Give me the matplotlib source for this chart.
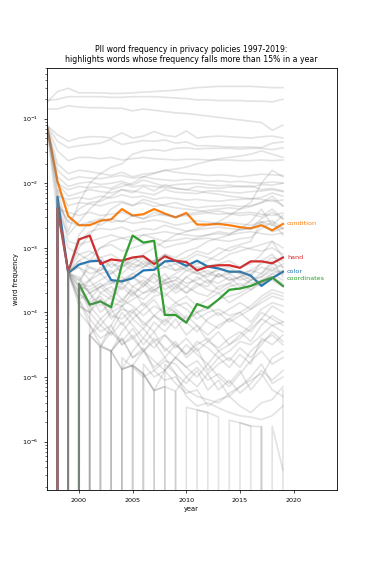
import numpy as np
import matplotlib
matplotlib.use("Agg")
import matplotlib.pyplot as plt
from matplotlib.ticker import NullFormatter, LogLocator

# --- data (log10 of word frequency, None = word absent that year) ---
years = list(range(1997, 2020))

condition = [-1.10, -1.97, -2.51, -2.65, -2.65, -2.58, -2.56, -2.40, -2.50, -2.48, -2.40, -2.47,
             -2.53, -2.46, -2.64, -2.64, -2.63, -2.65, -2.68, -2.70, -2.65, -2.73, -2.63]
hand = [None, -2.39, -3.37, -2.87, -2.81, -3.25, -3.18, -3.20, -3.15, -3.13, -3.25, -3.13,
        -3.20, -3.22, -3.35, -3.29, -3.27, -3.27, -3.31, -3.21, -3.21, -3.24, -3.15]
color = [None, -2.21, -3.39, -3.26, -3.21, -3.20, -3.50, -3.52, -3.47, -3.35, -3.34, -3.21,
         -3.20, -3.28, -3.20, -3.29, -3.32, -3.37, -3.37, -3.43, -3.59, -3.47, -3.37]
coordinates = [None, None, None, -3.56, -3.88, -3.83, -3.92, -3.26, -2.81, -2.92, -2.89, -4.04,
               -4.04, -4.16, -3.87, -3.93, -3.80, -3.65, -3.63, -3.59, -3.52, -3.46, -3.59]

# drawing order: blue under red like the original
highlight_words = ["condition", "color", "hand", "coordinates"]
highlight_series = [condition, color, hand, coordinates]
highlight_colors = ["tab:orange", "tab:blue", "tab:red", "tab:green"]
label_offsets = [0, 0, 0, 5]

y_ticks = [1e-6, 1e-5, 1e-4, 1e-3, 1e-2, 1e-1]
x_ticks = [2000, 2005, 2010, 2015, 2020]

N = None
other_words = [
    [-0.75, -0.58, -0.53, -0.60, -0.60, -0.60, -0.61, -0.61, -0.60, -0.59, -0.58, -0.57, -0.56, -0.54, -0.52, -0.51, -0.50, -0.50, -0.50, -0.50, -0.51, -0.52, -0.52],
    [-0.72, -0.70, -0.66, -0.66, -0.66, -0.66, -0.67, -0.67, -0.66, -0.66, -0.66, -0.67, -0.68, -0.69, -0.71, -0.71, -0.72, -0.72, -0.72, -0.73, -0.73, -0.74, -0.70],
    [-0.85, -0.85, -0.80, -0.82, -0.83, -0.83, -0.84, -0.84, -0.88, -0.85, -0.87, -0.89, -0.91, -0.92, -0.94, -0.96, -0.98, -1.00, -1.02, -1.04, -1.06, -1.18, -1.10],
    [-1.10, -1.25, -1.35, -1.30, -1.28, -1.28, -1.30, -1.22, -1.30, -1.27, -1.20, -1.26, -1.28, -1.19, -1.30, -1.28, -1.27, -1.28, -1.29, -1.30, -1.28, -1.27, -1.30],
    [-1.10, -1.35, -1.45, -1.42, -1.40, -1.38, -1.32, -1.40, -1.37, -1.34, -1.35, -1.33, -1.38, -1.36, -1.42, -1.42, -1.43, -1.44, -1.44, -1.44, -1.45, -1.38, -1.36],
    [-1.10, -1.50, -1.65, -1.60, -1.60, -1.62, -1.60, -1.64, -1.62, -1.60, -1.62, -1.63, -1.64, -1.63, -1.63, -1.64, -1.64, -1.64, -1.65, -1.65, -1.64, -1.65, -1.64],
    [N, -2.10, -2.75, -2.30, -2.00, -1.85, -1.75, -1.70, -1.55, -1.50, -1.48, -1.50, -1.46, -1.45, -1.47, -1.46, -1.46, -1.46, -1.47, -1.46, -1.46, -1.48, -1.45],
    [-1.10, -1.70, -1.85, -1.80, -1.82, -1.85, -1.88, -1.83, -1.90, -1.86, -1.84, -1.80, -1.83, -1.85, -1.86, -1.88, -1.87, -1.88, -1.90, -1.88, -1.86, -1.87, -1.88],
    [-1.10, -1.90, -2.05, -2.00, -1.98, -2.02, -2.00, -1.97, -2.03, -1.95, -2.00, -2.05, -2.02, -2.01, -2.00, -2.02, -2.04, -2.03, -2.05, -2.06, -2.02, -2.03, -2.00],
    [N, -2.40, -2.80, -2.60, -2.40, -2.25, -2.10, -2.05, -2.00, -1.90, -1.85, -1.80, -1.78, -1.75, -1.70, -1.66, -1.62, -1.60, -1.58, -1.55, -1.50, -1.55, -1.60],
    [-1.10, -2.00, -2.20, -2.15, -2.10, -2.13, -2.15, -2.10, -2.12, -2.15, -2.18, -2.10, -2.14, -2.15, -2.16, -2.12, -2.12, -2.14, -2.15, -2.13, -2.12, -2.10, -2.13],
    [-1.10, -2.10, -2.35, -2.30, -2.32, -2.35, -2.30, -2.28, -2.34, -2.30, -2.36, -2.33, -2.30, -2.35, -2.38, -2.36, -2.35, -2.34, -2.36, -2.35, -2.30, -2.25, -2.35],
    [N, -2.40, -2.45, -2.50, -2.45, -2.50, -2.48, -2.45, -2.50, -2.55, -2.50, -2.48, -2.52, -2.50, -2.48, -2.46, -2.48, -2.47, -2.46, -2.45, -2.48, -2.50, -2.46],
    [-1.10, -2.30, -2.60, -2.65, -2.60, -2.55, -2.60, -2.58, -2.62, -2.60, -2.57, -2.60, -2.65, -2.62, -2.58, -2.60, -2.62, -2.61, -2.63, -2.65, -2.60, -2.58, -2.70],
    [N, -2.20, -2.90, -2.95, -2.90, -2.85, -2.80, -2.85, -2.82, -2.80, -2.78, -2.75, -2.78, -2.80, -2.82, -2.80, -2.78, -2.80, -2.77, -2.75, -2.78, -2.80, -2.77],
    [-1.10, -1.80, -1.95, -1.90, -1.92, -1.93, -1.90, -1.88, -1.92, -1.90, -1.93, -1.95, -1.96, -1.94, -1.95, -1.97, -1.96, -1.98, -1.97, -1.99, -2.00, -1.98, -2.00],
    [-1.10, -2.20, -2.25, -2.22, -2.25, -2.20, -2.23, -2.18, -2.22, -2.20, -2.25, -2.22, -2.24, -2.26, -2.25, -2.27, -2.28, -2.26, -2.25, -2.24, -2.22, -2.15, -2.20],
    [N, -2.30, -2.60, -2.40, -2.30, -2.28, -2.20, -2.10, -2.15, -2.05, -2.12, -2.02, -2.08, -2.10, -2.05, -2.07, -2.08, -2.06, -2.05, -2.04, -2.10, -2.08, -2.12],
    [N, N, -3.37, -2.80, -2.60, -2.65, -2.55, -2.60, -2.50, -2.55, -2.45, -2.50, -2.52, -2.48, -2.45, -2.42, -2.40, -2.38, -2.40, -2.36, -2.30, -2.20, -2.35],
    [N, N, -3.37, -2.90, -2.75, -2.70, -2.72, -2.68, -2.75, -2.70, -2.72, -2.65, -2.70, -2.74, -2.72, -2.70, -2.68, -2.70, -2.72, -2.70, -2.55, -2.45, -2.55],
    [N, N, N, -3.56, -3.20, -3.00, -2.90, -2.85, -2.90, -2.80, -2.85, -2.90, -2.88, -2.85, -2.87, -2.85, -2.88, -2.90, -2.86, -2.84, -2.70, -2.60, -2.80],
    [-1.10, -2.00, -2.10, -2.05, -2.07, -2.05, -2.08, -2.00, -2.06, -2.03, -2.05, -2.07, -2.08, -2.10, -2.12, -2.15, -2.17, -2.20, -2.22, -2.24, -2.25, -2.28, -2.26],
    [N, -2.30, -3.37, -3.00, -2.80, -2.60, -2.40, -2.30, -2.35, -2.25, -2.30, -2.35, -2.38, -2.40, -2.42, -2.45, -2.43, -2.47, -2.50, -2.48, -2.52, -2.40, -2.55],
    [N, N, N, -3.56, -3.60, -3.50, -3.40, -3.30, -3.20, -3.10, -3.00, -2.90, -2.80, -2.75, -2.70, -2.65, -2.60, -2.50, -2.40, -2.30, -2.00, -1.80, -1.90],
    [N, N, -3.37, -3.50, -3.70, -3.60, -3.55, -3.50, -3.40, -3.30, -3.20, -3.10, -3.15, -3.05, -3.00, -2.90, -2.85, -2.80, -2.70, -2.60, -2.40, -2.65, -2.50],
    [N, N, N, N, -4.35, -4.20, -4.00, -3.90, -3.80, -3.70, -3.60, -3.50, -3.40, -3.30, -3.25, -3.20, -3.10, -3.00, -2.95, -2.90, -2.60, -2.75, -2.70],
    [N, N, -3.40, -3.20, -3.10, -3.00, -2.95, -3.05, -3.00, -2.95, -2.90, -3.00, -2.95, -2.92, -2.85, -2.80, -2.75, -2.78, -2.72, -2.70, -2.60, -2.65, -2.70],
    [N, N, -3.40, -3.50, -3.30, -3.35, -3.20, -3.40, -3.25, -3.30, -3.20, -3.15, -3.25, -3.20, -3.10, -3.15, -3.20, -3.10, -3.05, -3.00, -2.95, -2.90, -3.00],
    [N, N, -3.40, -3.60, -3.65, -3.55, -3.70, -3.50, -3.45, -3.60, -3.40, -3.55, -3.50, -3.35, -3.40, -3.45, -3.30, -3.40, -3.35, -3.45, -3.20, -3.10, -3.30],
    [N, N, -3.40, -3.80, -3.70, -3.90, -3.75, -3.85, -3.60, -3.70, -3.65, -3.55, -3.70, -3.60, -3.70, -3.75, -3.60, -3.55, -3.65, -3.50, -3.40, -3.20, -3.45],
    [N, N, -3.40, -3.45, -3.70, -4.00, -3.85, -3.90, -4.10, -3.95, -3.80, -4.05, -3.90, -3.85, -4.00, -3.95, -3.80, -3.75, -3.70, -3.60, -3.55, -3.40, -3.35],
    [-1.10, -2.50, -3.00, -3.10, -3.05, -3.15, -3.10, -3.20, -3.25, -3.15, -3.30, -3.20, -3.35, -3.30, -3.40, -3.35, -3.45, -3.40, -3.50, -3.45, -3.55, -3.50, -3.60],
    [N, N, N, -3.70, -3.50, -3.30, -3.40, -3.25, -3.35, -3.20, -3.30, -3.10, -3.20, -3.15, -3.05, -3.10, -3.00, -3.05, -2.98, -3.02, -3.05, -3.00, -3.10],
    [N, N, N, -3.90, -4.00, -3.70, -3.80, -3.60, -3.75, -3.55, -3.70, -3.50, -3.65, -3.45, -3.55, -3.60, -3.40, -3.50, -3.45, -3.35, -3.40, -3.25, -3.30],
    [N, N, -3.40, -3.30, -3.40, -3.35, -3.25, -3.30, -3.15, -3.25, -3.20, -3.30, -3.35, -3.25, -3.30, -3.28, -3.25, -3.20, -3.30, -3.25, -3.10, -2.90, -3.15],
    [N, -2.40, -3.40, -3.70, -3.90, -3.80, -4.05, -4.10, -3.95, -4.20, -4.05, -4.15, -3.95, -4.10, -4.00, -4.15, -4.25, -4.10, -4.20, -4.30, -4.10, -4.20, -4.15],
    [N, N, -3.37, -3.20, -3.30, -3.40, -3.55, -3.45, -3.60, -3.50, -3.65, -3.55, -3.50, -3.60, -3.45, -3.55, -3.40, -3.50, -3.45, -3.40, -3.30, -3.35, -3.25],
    [N, N, -3.37, -3.60, -3.50, -3.70, -3.60, -3.80, -3.65, -3.90, -3.75, -3.70, -3.85, -3.75, -3.90, -3.80, -3.70, -3.85, -3.75, -3.65, -3.55, -3.45, -3.60],
    [N, N, -3.37, -3.90, -4.00, -3.80, -4.10, -3.95, -4.00, -3.85, -4.05, -3.90, -4.00, -4.15, -4.00, -3.90, -4.05, -3.95, -3.85, -3.95, -3.80, -3.70, -3.75],
    [N, N, N, -3.56, -3.70, -3.60, -3.50, -3.65, -3.45, -3.55, -3.40, -3.50, -3.45, -3.55, -3.50, -3.40, -3.45, -3.35, -3.40, -3.50, -3.45, -3.35, -3.40],
    [N, N, N, -3.56, -3.90, -4.10, -3.95, -4.20, -4.00, -4.15, -4.30, -4.10, -4.25, -4.05, -4.20, -4.35, -4.20, -4.10, -4.00, -4.15, -3.95, -3.85, -3.90],
    [N, N, -3.37, -3.30, -3.50, -3.40, -3.35, -3.55, -3.40, -3.45, -3.55, -3.40, -3.60, -3.45, -3.35, -3.50, -3.55, -3.45, -3.60, -3.50, -3.45, -3.30, -3.40],
    [N, N, N, N, -3.80, -3.60, -3.75, -3.55, -3.70, -3.60, -3.45, -3.65, -3.55, -3.70, -3.60, -3.50, -3.65, -3.55, -3.45, -3.55, -3.50, -3.40, -3.50],
    [N, N, -3.37, -3.70, -3.85, -3.75, -3.95, -3.80, -3.90, -4.05, -3.90, -4.00, -3.85, -3.95, -4.10, -4.00, -3.95, -4.05, -4.00, -3.90, -3.75, -3.65, -3.70],
    [N, N, N, N, N, -4.53, -4.20, -3.90, -3.70, -3.80, -3.65, -3.75, -3.60, -3.70, -3.55, -3.65, -3.70, -3.60, -3.55, -3.65, -3.50, -3.45, -3.55],
    [N, -2.40, -3.37, -3.10, -3.20, -3.15, -3.30, -3.20, -3.30, -3.25, -3.35, -3.30, -3.25, -3.35, -3.30, -3.40, -3.35, -3.30, -3.40, -3.35, -3.25, -3.15, -3.20],
    [N, N, N, N, -4.35, -4.10, -4.30, -4.00, -4.20, -4.40, -4.15, -4.30, -4.10, -4.35, -4.20, -4.45, -4.30, -4.50, -4.40, -4.25, -4.10, -3.90, -4.00],
    [N, N, -3.40, -3.80, -4.10, -4.30, -4.20, -4.50, -4.35, -4.60, -4.40, -4.55, -4.70, -4.50, -4.65, -4.80, -4.60, -4.75, -4.55, -4.70, -4.50, -4.30, -4.45],
    [N, N, N, -4.00, -4.20, -4.50, -4.60, -4.40, -4.70, -4.55, -4.90, -4.75, -4.80, -5.00, -4.85, -5.05, -4.95, -5.10, -4.90, -5.20, -5.00, -4.70, -4.60],
    [N, N, N, N, N, -4.53, -4.30, -4.45, -4.25, -4.50, -4.30, -4.60, -4.45, -4.70, -4.55, -4.90, -4.70, -4.85, -4.65, -4.80, -4.40, -4.50, -4.35],
    [N, N, N, N, N, N, -4.60, -4.40, -4.70, -4.60, -4.85, -4.70, -4.95, -5.10, -4.90, -5.20, -5.05, -5.30, -5.15, -5.00, -4.80, -5.10, -5.00],
    [N, N, -3.37, -3.80, -4.20, -4.40, -4.30, -4.50, -4.40, -4.25, -4.45, -4.35, -4.55, -4.40, -4.60, -4.45, -4.55, -4.40, -4.30, -4.45, -4.20, -4.05, -4.15],
    [N, N, N, -3.56, -4.00, -4.20, -4.35, -4.15, -4.40, -4.60, -4.45, -4.70, -4.50, -4.65, -4.45, -4.55, -4.70, -4.60, -4.45, -4.50, -4.35, -4.20, -4.30],
    [N, N, N, N, N, N, -4.60, -4.30, -4.10, -4.25, -4.05, -4.20, -4.00, -4.15, -4.30, -4.10, -4.00, -4.15, -4.05, -3.95, -3.85, -3.75, -3.80],
    [N, N, N, N, N, N, N, -4.88, -4.60, -4.40, -4.55, -4.35, -4.50, -4.65, -4.50, -4.40, -4.60, -4.50, -4.35, -4.20, -4.00, -4.10, -4.20],
    [N, N, N, N, N, N, N, N, -4.82, -4.60, -4.75, -4.90, -4.70, -4.85, -4.75, -4.95, -4.80, -4.70, -4.85, -4.60, -4.45, -4.35, -4.50],
    [N, N, N, N, N, N, N, N, N, N, -5.21, -4.90, -4.70, -4.85, -5.00, -4.80, -5.00, -5.15, -4.95, -4.75, -4.60, -4.80, -4.70],
    [N, N, N, N, N, N, N, N, N, N, N, N, -5.22, -5.00, -5.15, -4.95, -5.20, -5.05, -5.25, -5.10, -4.90, -5.05, -4.90],
    [N, N, N, N, N, N, N, -4.70, -4.85, -5.00, -4.90, -5.05, -5.00, -5.20, -5.30, -5.35, -5.40, -5.25, -5.15, -5.05, -4.95, -5.20, -5.30],
    [N, N, N, N, N, N, N, N, N, -4.80, -5.00, -4.90, -5.10, -5.25, -5.20, -5.45, -5.35, -5.30, -5.45, -5.55, -5.40, -5.35, -5.15],
    [N, N, N, N, N, N, N, N, N, N, N, -4.80, -4.95, -5.30, -5.45, -5.40, -5.48, -5.55, -5.60, -5.62, -5.66, -5.60, -5.45],
    # words seen only once in a year (sit on the minimum frequency)
    [N, -2.40, N, N, N, N, N, N, N, N, N, N, N, N, N, N, N, N, N, N, N, N, N],
    [N, -2.40, -3.37, N, N, N, N, N, N, N, N, N, N, N, N, N, N, N, N, N, N, N, N],
    [N, N, -3.37, N, N, N, N, N, N, N, N, N, N, N, N, N, N, N, N, N, N, N, N],
    [N, N, -3.37, -3.56, N, N, N, N, N, N, N, N, N, N, N, N, N, N, N, N, N, N, N],
    [N, N, N, -3.56, N, N, N, N, N, N, N, N, N, N, N, N, N, N, N, N, N, N, N],
    [N, N, N, N, -4.35, -4.53, -4.60, -4.88, -4.82, -4.95, -5.21, -5.15, -5.22, N, N, N, N, N, N, N, N, N, N],
    [N, N, N, N, -4.35, -4.53, -4.60, -4.88, -4.82, -4.95, -5.21, -5.15, N, N, N, N, N, N, N, N, N, N, N],
    [N, N, N, N, N, N, N, -4.88, -4.82, -4.95, -5.21, N, N, N, N, N, N, N, N, N, N, N, N],
    [N, N, N, N, N, N, N, N, N, N, N, N, N, -5.47, -5.51, -5.55, -5.62, N, N, N, N, N, N],
    [N, N, N, N, N, N, N, N, N, N, N, N, N, N, N, N, N, -5.67, -5.71, -5.76, -5.77, N, N],
    [N, N, N, N, N, N, N, N, N, N, N, N, N, N, N, N, N, N, N, N, -5.77, N, N],
    [N, N, N, N, N, -4.53, N, N, N, N, N, N, N, N, N, N, N, N, N, N, N, N, N],
    [N, N, N, N, N, N, -4.60, N, N, N, N, N, N, N, N, N, N, N, N, N, N, N, N],
    [N, N, N, N, N, N, N, N, -4.82, N, N, N, N, N, N, N, N, N, N, N, N, N, N],
    [N, N, N, N, N, N, N, N, N, -4.95, N, N, N, N, N, N, N, N, N, N, N, N, N],
    [N, N, N, N, N, N, N, N, N, N, N, N, N, N, -5.51, -5.55, N, N, N, N, N, N, N],
    [N, N, N, N, N, N, N, N, N, N, N, N, N, N, N, N, N, N, -5.71, -5.76, N, N, N],
    [N, N, N, N, N, N, N, N, N, N, N, N, N, N, N, N, N, N, N, N, N, -5.76, -6.44],
    [N, N, N, N, N, N, N, N, N, N, N, N, N, N, N, N, N, N, N, N, N, N, -5.20],
]


def to_freq(logs):
    return np.array([0.0 if v is None else 10 ** v for v in logs])


fig = plt.figure(figsize=(3.74, 5.61), dpi=100)
ax = fig.add_axes([0.125, 0.127, 0.775, 0.752])
ax.set_yscale("log")

for word, series, col, off in zip(highlight_words, highlight_series, highlight_colors, label_offsets):
    vals = to_freq(series)
    ax.plot(years, vals, color=col, lw=1.6)
    ax.annotate(word, (years[-1], vals[-1]), xytext=(3, off), textcoords="offset points",
                color=col, fontsize=4.6, va="center", ha="left")

for series in other_words:
    ax.plot(years, to_freq(series), color="gray", alpha=0.22, lw=1.2)

ax.set_xlim(1997, 2024)
ax.set_ylim(10 ** -6.746, 10 ** -0.214)
ax.set_xticks(x_ticks)
ax.set_yticks(y_ticks)
ax.yaxis.set_minor_locator(LogLocator(base=10, subs=np.arange(2, 10)))
ax.yaxis.set_minor_formatter(NullFormatter())
ax.tick_params(labelsize=4.6, length=2.5, width=0.5)
ax.tick_params(which="minor", length=1.5, width=0.4)
for sp in ax.spines.values():
    sp.set_linewidth(0.6)
ax.set_xlabel("year", fontsize=4.8, labelpad=2)
ax.set_ylabel("word frequency", fontsize=4.8, labelpad=2)
ax.set_title("PII word frequency in privacy policies 1997-2019:\n"
             "highlights words whose frequency falls more than 15% in a year",
             fontsize=5.6, pad=4)

fig.savefig("out.png", dpi=100)
